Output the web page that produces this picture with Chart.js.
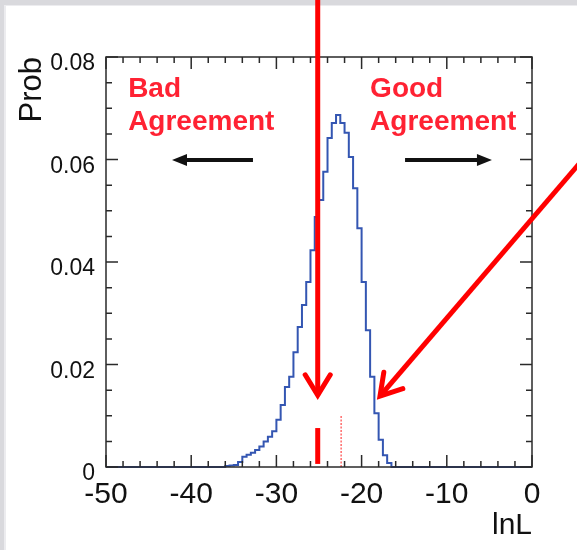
<!DOCTYPE html>
<html>
<head>
<meta charset="utf-8">
<script src="https://cdn.jsdelivr.net/npm/chart.js@4.4.0/dist/chart.umd.min.js"></script>
<style>
  html, body { margin: 0; padding: 0; background: #fff; }
  canvas { display: block; }
</style>
</head>
<body>
<canvas id="lnl" width="577" height="550"></canvas>
<script>
(function(){
    // histogram of lnL, bins of 0.5 (lower edges) and their probabilities
    const binLow = [-36, -35.5, -35, -34.5, -34, -33.5, -33, -32.5, -32, -31.5,
        -31, -30.5, -30, -29.5, -29, -28.5, -28, -27.5, -27, -26.5,
        -26, -25.5, -25, -24.5, -24, -23.5, -23, -22.5, -22, -21.5,
        -21, -20.5, -20, -19.5, -19, -18.5, -18, -17.5, -17];
    const binProb = [0.0002, 0.0003, 0.0004, 0.0010, 0.0020, 0.0024, 0.0028, 0.0033, 0.0040, 0.0050,
        0.0059, 0.0070, 0.0092, 0.0121, 0.0156, 0.0176, 0.0224, 0.0273, 0.0316, 0.0361,
        0.0423, 0.0488, 0.0521, 0.0576, 0.0642, 0.0671, 0.0687, 0.0671, 0.0652, 0.0605,
        0.0544, 0.0466, 0.0361, 0.0267, 0.0176, 0.0105, 0.0053, 0.0023, 0.0008];
    const binWidth = 0.5;

    const xTickValues = [-50, -40, -30, -20, -10, 0];
    const yTickValues = [0, 0.02, 0.04, 0.06, 0.08];

    // observed value (thick red) and mean (dotted red)
    const cutValue = -25.15;
    const cutSpan = [0.0006, 0.0076];
    const meanValue = -22.4;
    const meanSpan = [0, 0.0100];

    const histPts = [{x: -50, y: 0}];
    binLow.forEach((x, i) => histPts.push({x: x, y: binProb[i]}));
    histPts.push({x: binLow[binLow.length - 1] + binWidth, y: 0});
    histPts.push({x: 0, y: 0});

    Chart.defaults.font.family = '"Liberation Sans", Arial, Helvetica, sans-serif';
    Chart.defaults.color = '#111';

    const red = '#ff0000';

    const redArrow = (c, x0, y0, x1, y1) => {
        c.save();
        c.strokeStyle = red;
        c.lineWidth = 5;
        c.lineCap = 'butt';
        c.beginPath();
        c.moveTo(x0, y0);
        c.lineTo(x1, y1);
        c.stroke();
        const a = Math.atan2(y0 - y1, x0 - x1);
        c.lineCap = 'round';
        c.lineJoin = 'miter';
        c.beginPath();
        c.moveTo(x1 + 24 * Math.cos(a - 0.55), y1 + 24 * Math.sin(a - 0.55));
        c.lineTo(x1, y1);
        c.lineTo(x1 + 24 * Math.cos(a + 0.55), y1 + 24 * Math.sin(a + 0.55));
        c.stroke();
        c.restore();
    };

    const blackArrow = (c, x0, x1, y) => {
        const dir = Math.sign(x1 - x0);
        c.save();
        c.strokeStyle = '#111';
        c.fillStyle = '#111';
        c.lineWidth = 4;
        c.beginPath();
        c.moveTo(x0, y);
        c.lineTo(x1 - dir * 10, y);
        c.stroke();
        c.beginPath();
        c.moveTo(x1, y);
        c.lineTo(x1 - dir * 15, y - 6);
        c.lineTo(x1 - dir * 15, y + 6);
        c.closePath();
        c.fill();
        c.restore();
    };

    const frame = {
        id: 'frame',
        beforeDraw(chart){
            const c = chart.ctx;
            c.save();
            c.fillStyle = '#d9d9dd';
            c.fillRect(0, 0, chart.width, chart.height);
            c.fillStyle = '#ececef';
            c.fillRect(4, 5, chart.width - 4, chart.height - 5);
            c.fillStyle = '#ffffff';
            c.fillRect(6, 6, chart.width - 6, chart.height - 6);
            c.restore();
        },
        afterDatasetsDraw(chart){
            const c = chart.ctx;
            const {left, right, top, bottom} = chart.chartArea;
            const sx = chart.scales.x, sy = chart.scales.y;

            // frame
            c.save();
            c.strokeStyle = '#2a2a2a';
            c.lineWidth = 1.5;
            c.strokeRect(left, top, right - left, bottom - top);

            // ticks on all sides, pointing inward
            c.lineWidth = 1.5;
            c.beginPath();
            for (let v = -50; v <= 0; v += 2) {
                const px = sx.getPixelForValue(v);
                const len = (v % 10 === 0) ? 12 : 6;
                c.moveTo(px, bottom); c.lineTo(px, bottom - len);
                c.moveTo(px, top); c.lineTo(px, top + len);
            }
            for (let k = 0; k <= 16; k++) {
                const py = sy.getPixelForValue(k * 0.005);
                const len = (k % 4 === 0) ? 12 : 6;
                c.moveTo(left, py); c.lineTo(left + len, py);
                c.moveTo(right, py); c.lineTo(right - len, py);
            }
            c.stroke();

            // labels in the plot
            c.fillStyle = '#ff2233';
            c.font = 'bold 28px "Liberation Sans", Arial, sans-serif';
            c.textAlign = 'left';
            c.textBaseline = 'alphabetic';
            c.fillText('Bad', sx.getPixelForValue(-47.4), sy.getPixelForValue(0.0722));
            c.fillText('Agreement', sx.getPixelForValue(-47.4), sy.getPixelForValue(0.0658));
            c.fillText('Good', sx.getPixelForValue(-19.0), sy.getPixelForValue(0.0722));
            c.fillText('Agreement', sx.getPixelForValue(-19.0), sy.getPixelForValue(0.0658));
            c.restore();

            const ay = sy.getPixelForValue(0.0599);
            blackArrow(c, sx.getPixelForValue(-32.75), sx.getPixelForValue(-42.25), ay);
            blackArrow(c, sx.getPixelForValue(-14.9), sx.getPixelForValue(-4.7), ay);

            // annotation arrows
            redArrow(c, sx.getPixelForValue(cutValue), sy.getPixelForValue(0.093),
                sx.getPixelForValue(cutValue), sy.getPixelForValue(0.0140));
            redArrow(c, sx.getPixelForValue(5.6), sy.getPixelForValue(0.0593),
                sx.getPixelForValue(-17.84), sy.getPixelForValue(0.01385));
        }
    };

    new Chart(document.getElementById('lnl').getContext('2d'), {
        type: 'line',
        data: {
            datasets: [{
                label: 'lnL',
                data: histPts,
                stepped: true,
                borderColor: '#3456b2',
                borderWidth: 2,
                pointRadius: 0,
                fill: false,
                clip: 4
            }, {
                label: 'cut',
                data: [{x: cutValue, y: cutSpan[0]}, {x: cutValue, y: cutSpan[1]}],
                borderColor: red,
                borderWidth: 5,
                pointRadius: 0
            }, {
                label: 'mean',
                data: [{x: meanValue, y: meanSpan[0]}, {x: meanValue, y: meanSpan[1]}],
                borderColor: '#ff6a6a',
                borderWidth: 1.5,
                borderDash: [2, 1.5],
                pointRadius: 0
            }]
        },
        options: {
            responsive: false,
            animation: false,
            devicePixelRatio: 1,
            layout: { padding: { left: 0, top: 57, right: 45, bottom: 0 } },
            plugins: { legend: { display: false }, tooltip: { enabled: false } },
            scales: {
                x: {
                    type: 'linear',
                    min: -50,
                    max: 0,
                    grid: { display: false },
                    border: { display: false },
                    afterBuildTicks: s => { s.ticks = xTickValues.map(v => ({value: v})); },
                    afterFit: s => { s.height = 83; },
                    ticks: {
                        font: { size: 30 },
                        color: '#111',
                        padding: 2,
                        maxRotation: 0,
                        autoSkip: false,
                        callback: v => String(v)
                    },
                    title: {
                        display: true,
                        text: 'lnL',
                        align: 'end',
                        color: '#111',
                        font: { size: 30 },
                        padding: { top: 0, bottom: 6 }
                    }
                },
                y: {
                    min: 0,
                    max: 0.08,
                    grid: { display: false },
                    border: { display: false },
                    afterBuildTicks: s => { s.ticks = yTickValues.map(v => ({value: v})); },
                    afterFit: s => { s.width = 106; },
                    ticks: {
                        font: { size: 23 },
                        color: '#111',
                        padding: 3,
                        labelOffset: 7,
                        autoSkip: false,
                        callback: v => v === 0 ? '0' : v.toFixed(2)
                    },
                    title: {
                        display: true,
                        text: 'Prob',
                        align: 'end',
                        color: '#111',
                        font: { size: 31 },
                        padding: { top: 14, bottom: 0 }
                    }
                }
            }
        },
        plugins: [frame]
    });
}())
</script>
</body>
</html>
